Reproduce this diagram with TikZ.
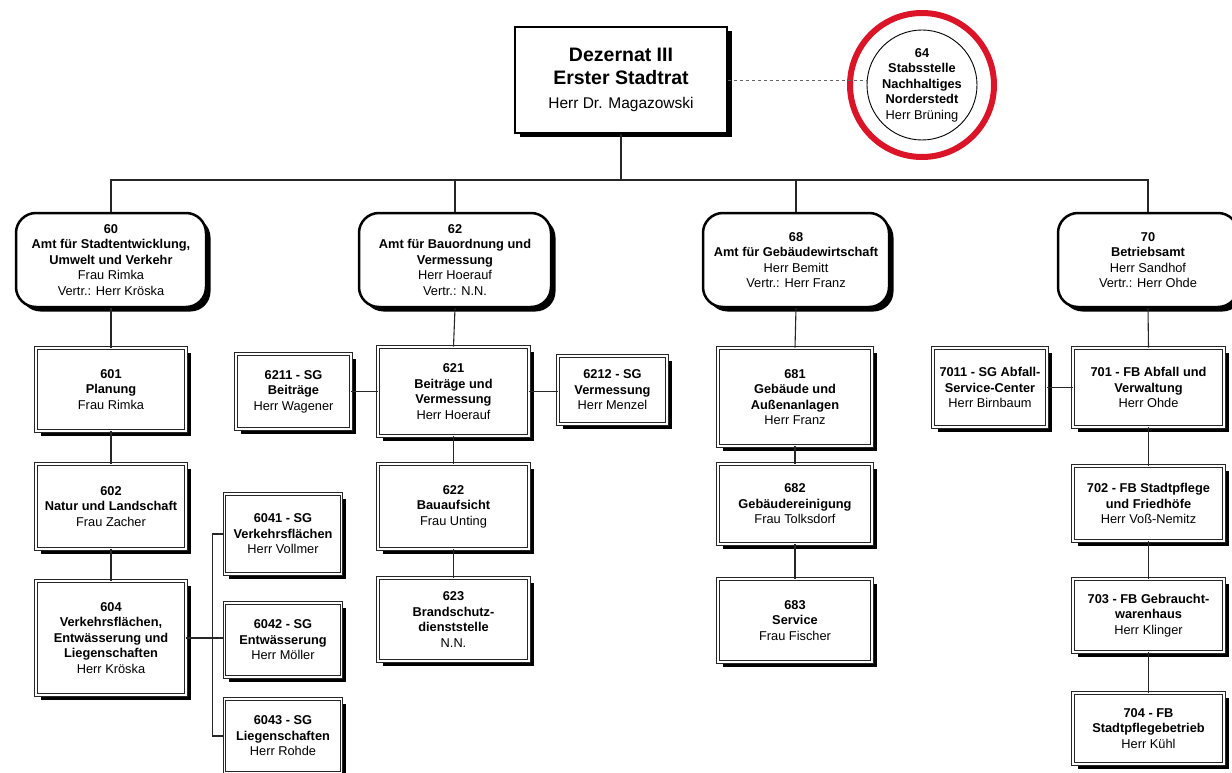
\documentclass[tikz,border=0pt]{standalone}
\usepackage{fontspec}
\setmainfont{Liberation Sans}
\usetikzlibrary{shadows}
\begin{document}
\begin{tikzpicture}[x=1pt,y=-1pt,
  every node/.style={font=\fontsize{12.8}{15.5}\selectfont, align=center, inner sep=0pt},
  shad/.style={drop shadow={fill=black, opacity=1, shadow xshift=4.5pt, shadow yshift=-4.5pt}},
  dezbox/.style={draw, line width=2.8pt, fill=white, shad},
  amtbox/.style={draw, line width=2.5pt, rounded corners=20pt, fill=white, shad},
  subbox/.style={draw=black!85, double=white, double distance=1.8pt, line width=0.8pt, fill=white, shad},
  conn/.style={line width=1.1pt, black!85},
]
\useasboundingbox (0,0) rectangle (1232,773);

% top
\node[dezbox, minimum width=212pt, minimum height=106pt,
      font=\fontsize{19.5}{23}\selectfont] (dez) at (621,80)
  {\textbf{Dezernat III}\\
   \textbf{Erster Stadtrat}\\[1pt]
   {\fontsize{15.5}{18}\selectfont Herr Dr. Magazowski}};
\node[circle, draw, line width=0.9pt, minimum size=110pt, fill=white] (c64) at (922,85)
  {\textbf{64}\\ \textbf{Stabsstelle}\\ \textbf{Nachhaltiges}\\ \textbf{Norderstedt}\\ Herr Brüning};
\node[circle, draw={rgb,255:red,220;green,20;blue,40}, line width=6pt, minimum size=144pt] (ring) at (922,85) {};
\draw[conn, dashed, black!60, line width=0.9pt] (dez.east |- 0,80) -- (c64.west |- 0,80);

% Amt level
\node[amtbox, minimum width=190pt, minimum height=94pt] (a60) at (111,260)
  {\textbf{60}\\ \textbf{Amt für Stadtentwicklung,}\\ \textbf{Umwelt und Verkehr}\\ Frau Rimka\\ Vertr.: Herr Kröska};
\node[amtbox, minimum width=192pt, minimum height=94pt] (a62) at (455,260)
  {\textbf{62}\\ \textbf{Amt für Bauordnung und}\\ \textbf{Vermessung}\\ Herr Hoerauf\\ Vertr.: N.N.};
\node[amtbox, minimum width=186pt, minimum height=94pt] (a68) at (796,260)
  {\textbf{68}\\ \textbf{Amt für Gebäudewirtschaft}\\ Herr Bemitt\\ Vertr.: Herr Franz};
\node[amtbox, minimum width=180pt, minimum height=94pt] (a70) at (1148,260)
  {\textbf{70}\\ \textbf{Betriebsamt}\\ Herr Sandhof\\ Vertr.: Herr Ohde};

\coordinate (bus) at (0,180);
\draw[conn] (dez.south) -- (dez.south |- bus);
\draw[conn] (a60.north) -- (a60.north |- bus) -- (a70.north |- bus) -- (a70.north);
\draw[conn] (a62.north) -- (a62.north |- bus);
\draw[conn] (a68.north) -- (a68.north |- bus);

% column 60
\node[subbox, minimum width=150pt, minimum height=83pt] (n601) at (111,389.5)
  {\textbf{601}\\ \textbf{Planung}\\ Frau Rimka};
\node[subbox, minimum width=150pt, minimum height=85pt] (n602) at (111,506.5)
  {\textbf{602}\\ \textbf{Natur und Landschaft}\\ Frau Zacher};
\node[subbox, minimum width=150pt, minimum height=114pt] (n604) at (111,638)
  {\textbf{604}\\ \textbf{Verkehrsflächen,}\\ \textbf{Entwässerung und}\\ \textbf{Liegenschaften}\\ Herr Kröska};
\node[subbox, minimum width=117pt, minimum height=80pt] (n6041) at (283,534)
  {\textbf{6041 - SG}\\ \textbf{Verkehrsflächen}\\ Herr Vollmer};
\node[subbox, minimum width=117pt, minimum height=74pt] (n6042) at (283,640)
  {\textbf{6042 - SG}\\ \textbf{Entwässerung}\\ Herr Möller};
\node[subbox, minimum width=117pt, minimum height=74pt] (n6043) at (283,736)
  {\textbf{6043 - SG}\\ \textbf{Liegenschaften}\\ Herr Rohde};

\draw[conn] (a60.south) -- (n601.north);
\draw[conn] (n601.south) -- (n602.north);
\draw[conn] (n602.south) -- (n604.north);
\draw[conn] (n604.east) -- (n604.east -| n6042.west);
\draw[conn] (n6041.west) -- ++(-12,0) coordinate (brt) |- (n6043.west);

% column 62
\node[subbox, minimum width=151pt, minimum height=89pt] (n621) at (453.5,391.5)
  {\textbf{621}\\ \textbf{Beiträge und}\\ \textbf{Vermessung}\\ Herr Hoerauf};
\node[subbox, minimum width=115pt, minimum height=75pt] (n6211) at (293.5,391.5)
  {\textbf{6211 - SG}\\ \textbf{Beiträge}\\ Herr Wagener};
\node[subbox, minimum width=109pt, minimum height=68pt] (n6212) at (612.5,390)
  {\textbf{6212 - SG}\\ \textbf{Vermessung}\\ Herr Menzel};
\node[subbox, minimum width=151pt, minimum height=85pt] (n622) at (453.5,506.5)
  {\textbf{622}\\ \textbf{Bauaufsicht}\\ Frau Unting};
\node[subbox, minimum width=151pt, minimum height=83pt] (n623) at (453.5,619.5)
  {\textbf{623}\\ \textbf{Brandschutz-}\\ \textbf{dienststelle}\\ N.N.};

\draw[conn] (a62.south) -- (n621.north);
\draw[conn] (n621.west) -- (n621.west -| n6211.east);
\draw[conn] (n621.east) -- (n621.east -| n6212.west);
\draw[conn] (n621.south) -- (n622.north);
\draw[conn] (n622.south) -- (n623.north);

% column 68
\node[subbox, minimum width=154pt, minimum height=98pt] (n681) at (795,397)
  {\textbf{681}\\ \textbf{Gebäude und}\\ \textbf{Außenanlagen}\\ Herr Franz};
\node[subbox, minimum width=154pt, minimum height=80pt] (n682) at (795,504)
  {\textbf{682}\\ \textbf{Gebäudereinigung}\\ Frau Tolksdorf};
\node[subbox, minimum width=154pt, minimum height=83pt] (n683) at (795,620.5)
  {\textbf{683}\\ \textbf{Service}\\ Frau Fischer};

\draw[conn] (a68.south) -- (n681.north);
\draw[conn] (n681.south) -- (n682.north);
\draw[conn] (n682.south) -- (n683.north);

% column 70
\node[subbox, minimum width=151pt, minimum height=79pt] (n701) at (1148.5,387.5)
  {\textbf{701 - FB Abfall und}\\ \textbf{Verwaltung}\\ Herr Ohde};
\node[subbox, minimum width=114pt, minimum height=79pt] (n7011) at (990,387.5)
  {\textbf{7011 - SG Abfall-}\\ \textbf{Service-Center}\\ Herr Birnbaum};
\node[subbox, minimum width=151pt, minimum height=75pt] (n702) at (1148.5,503.5)
  {\textbf{702 - FB Stadtpflege}\\ \textbf{und Friedhöfe}\\ Herr Voß-Nemitz};
\node[subbox, minimum width=151pt, minimum height=73pt] (n703) at (1148.5,615.5)
  {\textbf{703 - FB Gebraucht-}\\ \textbf{warenhaus}\\ Herr Klinger};
\node[subbox, minimum width=151pt, minimum height=71pt] (n704) at (1148.5,728.5)
  {\textbf{704 - FB}\\ \textbf{Stadtpflegebetrieb}\\ Herr Kühl};

\draw[conn] (a70.south) -- (n701.north);
\draw[conn] (n701.west) -- (n701.west -| n7011.east);
\draw[conn] (n701.south) -- (n702.north);
\draw[conn] (n702.south) -- (n703.north);
\draw[conn] (n703.south) -- (n704.north);
\end{tikzpicture}
\end{document}
